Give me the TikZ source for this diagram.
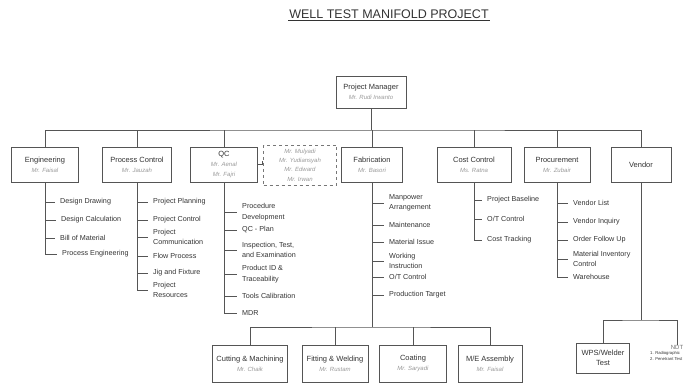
\documentclass[tikz,border=0pt]{standalone}
\usepackage{fontspec}
\setmainfont{Liberation Sans}
\definecolor{ink}{HTML}{333333}
\definecolor{wire}{HTML}{555555}
\definecolor{namegray}{HTML}{9A9A9A}
\begin{document}
\begin{tikzpicture}[x=1pt,y=-1pt,
  every node/.style={text=ink},
  unit/.style={draw=wire,line width=0.9pt,fill=white,rectangle,inner sep=1pt,
    align=center,font=\fontsize{7.5}{10}\selectfont},
  leaf/.style={anchor=west,inner xsep=5pt,inner ysep=0pt,align=left,
    font=\fontsize{7.2}{10.5}\selectfont},
  wires/.style={draw=wire,line width=0.7pt},
]
\newcommand{\who}[1]{{\fontsize{6}{9}\selectfont\itshape\color{namegray}#1}}
\useasboundingbox (0,0) rectangle (697,385);

% title
\node[font=\fontsize{12.5}{14}\selectfont,inner sep=1pt] (title) at (389,14) {WELL TEST MANIFOLD PROJECT};
\draw[ink,line width=0.6pt] ([yshift=-0.5pt]title.south west) -- ([yshift=-0.5pt]title.south east);

% top of the chart
\node[unit,minimum width=70,minimum height=32] (pm) at (371,92) {Project Manager\\\who{Mr. Rudi Irwanto}};

% department boxes
\node[unit,minimum width=67,minimum height=35] (eng)  at (45,164.5)  {Engineering\\\who{Mr. Faisal}};
\node[unit,minimum width=69,minimum height=35] (pc)   at (137,164.5) {Process Control\\\who{Mr. Jauzah}};
\node[unit,minimum width=67,minimum height=35] (qc)   at (224,164.5) {QC\\\who{Mr. Aenal}\\\who{Mr. Fajri}};
\node[unit,draw=wire!80,dashed,line width=0.8pt,minimum width=73,minimum height=40,
      font=\fontsize{6}{9.3}\selectfont] (qcteam) at (300,165)
      {\who{Mr. Mulyadi}\\\who{Mr. Yudiansyah}\\\who{Mr. Edward}\\\who{Mr. Irwan}};
\node[unit,minimum width=61,minimum height=35] (fab)  at (372,164.5) {Fabrication\\\who{Mr. Basori}};
\node[unit,minimum width=74,minimum height=35] (cc)   at (474,164.5) {Cost Control\\\who{Ms. Ratna}};
\node[unit,minimum width=66,minimum height=35] (proc) at (557,164.5) {Procurement\\\who{Mr. Zubair}};
\node[unit,minimum width=60,minimum height=35] (ven)  at (641,164.5) {Vendor};

% main bus
\coordinate (bus) at (371,130);
\draw[wires] (pm.south) -- (bus);
\draw[wires] (eng.north) |- (bus) -| (ven.north);
\foreach \d in {pc,qc,fab,cc,proc}{\draw[wires] (\d.north) -- (\d.north |- bus);}
\draw[wires] (qc.east) -- ++(4,0) |- ([yshift=4pt]qcteam.west);

% Engineering tasks
\node[leaf] (e1) at (55,202) {Design Drawing};
\node[leaf] (e2) at (56,220) {Design Calculation};
\node[leaf] (e3) at (55,238) {Bill of Material};
\node[leaf] (e4) at (57,254) {Process Engineering};
\draw[wires] (eng.south) |- (e4.west);
\foreach \t in {e1,e2,e3}{\draw[wires] (\t.west -| eng.south) -- (\t.west);}

% Process Control tasks
\node[leaf] (p1) at (148,202) {Project Planning};
\node[leaf] (p2) at (148,220) {Project Control};
\node[leaf] (p3) at (148,237) {Project\\Communication};
\node[leaf] (p4) at (148,256) {Flow Process};
\node[leaf] (p5) at (148,273) {Jig and Fixture};
\node[leaf] (p6) at (148,290) {Project\\Resources};
\draw[wires] (pc.south) -- (pc.south |- p6.west);
\foreach \t in {p1,p2,p3,p4,p5,p6}{\draw[wires] (\t.west -| pc.south) -- (\t.west);}

% QC tasks
\node[leaf] (q1) at (237,212) {Procedure\\Development};
\node[leaf] (q2) at (237,230) {QC - Plan};
\node[leaf] (q3) at (237,250) {Inspection, Test,\\and Examination};
\node[leaf] (q4) at (237,274) {Product ID \&\\Traceability};
\node[leaf] (q5) at (237,296) {Tools Calibration};
\node[leaf] (q6) at (237,313) {MDR};
\draw[wires] (qc.south) |- (q6.west);
\foreach \t in {q1,q2,q3,q4,q5}{\draw[wires] (\t.west -| qc.south) -- (\t.west);}

% Fabrication tasks
\node[leaf] (f1) at (384,203) {Manpower\\Arrangement};
\node[leaf] (f2) at (384,225) {Maintenance};
\node[leaf] (f3) at (384,242) {Material Issue};
\node[leaf] (f4) at (384,261) {Working\\Instruction};
\node[leaf] (f5) at (384,277) {O/T Control};
\node[leaf] (f6) at (384,295) {Production Target};
\foreach \t in {f1,f2,f3,f4,f5,f6}{\draw[wires] (\t.west -| fab.south) -- (\t.west);}

% Cost Control tasks
\node[leaf] (c1) at (482,200) {Project Baseline};
\node[leaf] (c2) at (482,219) {O/T Control};
\node[leaf] (c3) at (482,240) {Cost Tracking};
\draw[wires] (cc.south) |- (c3.west);
\foreach \t in {c1,c2}{\draw[wires] (\t.west -| cc.south) -- (\t.west);}

% Procurement tasks
\node[leaf] (r1) at (568,203) {Vendor List};
\node[leaf] (r2) at (568,222) {Vendor Inquiry};
\node[leaf] (r3) at (568,240) {Order Follow Up};
\node[leaf] (r4) at (568,259) {Material Inventory\\Control};
\node[leaf] (r5) at (568,277) {Warehouse};
\draw[wires] (proc.south) |- (r5.west);
\foreach \t in {r1,r2,r3,r4}{\draw[wires] (\t.west -| proc.south) -- (\t.west);}

% fabrication workshops
\node[unit,minimum width=75,minimum height=37] (cut)  at (250,363.5) {Cutting \& Machining\\\who{Mr. Chaik}};
\node[unit,minimum width=66,minimum height=37] (fit)  at (335,363.5) {Fitting \& Welding\\\who{Mr. Rustam}};
\node[unit,minimum width=67,minimum height=37] (coat) at (413,363.5) {Coating\\\who{Mr. Saryadi}};
\node[unit,minimum width=64,minimum height=37] (me)   at (490,363.5) {M/E Assembly\\\who{Mr. Faisal}};
\coordinate (wbus) at (372,327);
\draw[wires] (fab.south) -- (wbus);
\draw[wires] (cut.north) |- (wbus) -| (me.north);
\foreach \d in {fit,coat}{\draw[wires] (\d.north) -- (\d.north |- wbus);}

% vendor work
\node[unit,minimum width=53,minimum height=30] (wps) at (603,358) {WPS/Welder\\Test};
\node[inner sep=0pt,font=\fontsize{6}{8}\selectfont,text=ink!70] (ndt) at (677,347) {NDT};
\node[anchor=north west,inner sep=0pt,align=left,font=\fontsize{4.2}{6}\selectfont] (ndtl) at (650,351)
     {1. Radiographic\\2. Penetrant Test};
\coordinate (vbus) at (641,320);
\draw[wires] (ven.south) -- (vbus);
\draw[wires] (wps.north) |- (vbus) -| (ndt.north);
\end{tikzpicture}
\end{document}
